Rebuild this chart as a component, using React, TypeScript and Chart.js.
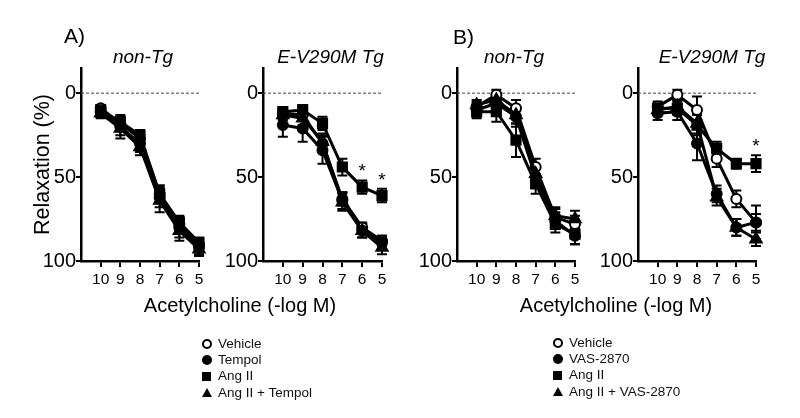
import React, { useEffect, useRef } from "react";
import { Chart, registerables } from "chart.js";

Chart.register(...registerables);

const FONT = "'Liberation Sans', Arial, Helvetica, sans-serif";

// ---------- shared axis data ----------
const doses = [10, 9, 8, 7, 6, 5];
const xTickValues = [10, 9, 8, 7, 6, 5];
const yTickValues = [0, 50, 100];
const zeroLineX = [11, 5];

const legendA = ["Vehicle", "Tempol", "Ang II", "Ang II + Tempol"];
const legendB = ["Vehicle", "VAS-2870", "Ang II", "Ang II + VAS-2870"];

// ---------- Panel A, non-Tg ----------
const aNonVehicle = [9, 18, 27, 60, 78, 90];
const aNonVehicleErr = [2, 4, 4, 5, 4, 3];
const aNonTempol = [11, 20, 30, 62, 80, 92];
const aNonTempolErr = [3, 5, 5, 6, 6, 4];
const aNonAng = [10, 17, 25, 60, 77, 89];
const aNonAngErr = [2, 4, 3, 5, 4, 3];
const aNonAngTempol = [12, 21, 32, 64, 82, 93];
const aNonAngTempolErr = [3, 6, 5, 7, 6, 4];

// ---------- Panel A, E-V290M Tg ----------
const aTgVehicle = [12, 13, 30, 63, 80, 88];
const aTgVehicleErr = [2, 3, 5, 4, 3, 3];
const aTgTempol = [19, 21, 34, 64, 82, 89];
const aTgTempolErr = [7, 8, 8, 5, 4, 4];
const aTgAng = [11, 10, 18, 44, 56, 61];
const aTgAngErr = [2, 3, 4, 5, 4, 4];
const aTgAngTempol = [13, 15, 29, 65, 82, 92];
const aTgAngTempolErr = [3, 4, 5, 5, 4, 4];
const aTgStars = [4, 5];

// ---------- Panel B, non-Tg ----------
const bNonVehicle = [8, 1, 9, 44, 74, 78];
const bNonVehicleErr = [3, 3, 5, 5, 5, 5];
const bNonVas = [10, 6, 14, 50, 76, 85];
const bNonVasErr = [4, 5, 6, 6, 5, 5];
const bNonAng = [11, 11, 28, 54, 78, 84];
const bNonAngErr = [4, 6, 10, 6, 5, 6];
const bNonAngVas = [7, 4, 13, 48, 73, 75];
const bNonAngVasErr = [3, 4, 5, 5, 5, 5];

// ---------- Panel B, E-V290M Tg ----------
const bTgVehicle = [8, 1, 10, 39, 63, 77];
const bTgVehicleErr = [3, 3, 8, 5, 5, 5];
const bTgVas = [12, 11, 30, 60, 80, 77];
const bTgVasErr = [4, 5, 10, 5, 5, 10];
const bTgAng = [9, 9, 19, 33, 42, 42];
const bTgAngErr = [3, 4, 6, 4, 3, 5];
const bTgAngVas = [10, 8, 18, 62, 80, 87];
const bTgAngVasErr = [3, 4, 6, 5, 5, 4];
const bTgStars = [5];

type Series = { values: number[]; errors: number[] };
type PanelCfg = {
  left: number;
  right: number;
  yWidth: number;
  title: string;
  titleDx: number;
  yTitle: string | null;
  vehicle: Series;
  drug: Series;
  ang: Series;
  angDrug: Series;
  stars: number[];
};

const TOP = 68;
const BOTTOM = 261;
const XH = 40;

const panels: PanelCfg[] = [
  {
    left: 81, right: 199, yWidth: 51, title: "non-Tg", titleDx: 3, yTitle: "Relaxation (%)",
    vehicle: { values: aNonVehicle, errors: aNonVehicleErr },
    drug: { values: aNonTempol, errors: aNonTempolErr },
    ang: { values: aNonAng, errors: aNonAngErr },
    angDrug: { values: aNonAngTempol, errors: aNonAngTempolErr },
    stars: [],
  },
  {
    left: 263, right: 382, yWidth: 44, title: "E-V290M Tg", titleDx: 8, yTitle: null,
    vehicle: { values: aTgVehicle, errors: aTgVehicleErr },
    drug: { values: aTgTempol, errors: aTgTempolErr },
    ang: { values: aTgAng, errors: aTgAngErr },
    angDrug: { values: aTgAngTempol, errors: aTgAngTempolErr },
    stars: aTgStars,
  },
  {
    left: 457, right: 575, yWidth: 44, title: "non-Tg", titleDx: -2, yTitle: null,
    vehicle: { values: bNonVehicle, errors: bNonVehicleErr },
    drug: { values: bNonVas, errors: bNonVasErr },
    ang: { values: bNonAng, errors: bNonAngErr },
    angDrug: { values: bNonAngVas, errors: bNonAngVasErr },
    stars: [],
  },
  {
    left: 638, right: 756, yWidth: 44, title: "E-V290M Tg", titleDx: 15, yTitle: null,
    vehicle: { values: bTgVehicle, errors: bTgVehicleErr },
    drug: { values: bTgVas, errors: bTgVasErr },
    ang: { values: bTgAng, errors: bTgAngErr },
    angDrug: { values: bTgAngVas, errors: bTgAngVasErr },
    stars: bTgStars,
  },
];

const decorPlugin = {
  id: "panelDecor",
  beforeDatasetsDraw(chart: any) {
    const ctx = chart.ctx;
    const xs = chart.scales.x;
    const ys = chart.scales.y;
    chart.data.datasets.forEach((ds: any) => {
      if (!ds.errors) return;
      ctx.save();
      ctx.strokeStyle = "#000";
      ctx.lineWidth = 2;
      ds.data.forEach((p: any, i: number) => {
        const e = ds.errors[i];
        if (!e) return;
        const px = xs.getPixelForValue(p.x);
        const y1 = ys.getPixelForValue(p.y - e);
        const y2 = ys.getPixelForValue(p.y + e);
        ctx.beginPath();
        ctx.moveTo(px, y1);
        ctx.lineTo(px, y2);
        ctx.moveTo(px - 5, y1);
        ctx.lineTo(px + 5, y1);
        ctx.moveTo(px - 5, y2);
        ctx.lineTo(px + 5, y2);
        ctx.stroke();
      });
      ctx.restore();
    });
  },
  afterDraw(chart: any, _args: any, opts: any) {
    const ctx = chart.ctx;
    const area = chart.chartArea;
    const xs = chart.scales.x;
    const ys = chart.scales.y;
    ctx.save();
    ctx.fillStyle = "#000";
    ctx.font = `italic 19px ${FONT}`;
    ctx.textAlign = "center";
    ctx.textBaseline = "alphabetic";
    ctx.fillText(opts.title, (area.left + area.right) / 2 + opts.titleDx, area.top - 5);
    const starDs = chart.data.datasets.find((d: any) => d.starIdx);
    if (starDs) {
      ctx.font = `19px ${FONT}`;
      starDs.starIdx.forEach((i: number) => {
        const p = starDs.data[i];
        const e = starDs.errors[i];
        const px = xs.getPixelForValue(p.x);
        const py = ys.getPixelForValue(p.y - e) - 13;
        ctx.fillText("*", px, py + 10);
      });
    }
    ctx.restore();
  },
};

function PanelChart({ cfg }: { cfg: PanelCfg }) {
  const ref = useRef<HTMLCanvasElement | null>(null);
  useEffect(() => {
    if (!ref.current) return;
    const mk = (s: Series, style: string, fill: string, radius: number, extra: any = {}) => ({
      data: doses.map((d, i) => ({ x: d, y: s.values[i] })),
      errors: s.errors,
      borderColor: "#000",
      borderWidth: 3,
      pointStyle: style,
      pointRadius: radius,
      pointBackgroundColor: fill,
      pointBorderColor: "#000",
      pointBorderWidth: 2,
      tension: 0,
      clip: false,
      ...extra,
    });
    const chart = new Chart(ref.current, {
      type: "line",
      data: {
        datasets: [
          mk(cfg.angDrug, "triangle", "#000", 6.5),
          mk(cfg.ang, "rect", "#000", 6.5, { starIdx: cfg.stars.length ? cfg.stars : null }),
          mk(cfg.drug, "circle", "#000", 5),
          mk(cfg.vehicle, "circle", "#fff", 5),
          {
            data: zeroLineX.map((x) => ({ x, y: 0 })),
            borderColor: "#444",
            borderWidth: 1,
            borderDash: [3, 2],
            pointRadius: 0,
            tension: 0,
          },
        ] as any,
      },
      options: {
        animation: false,
        responsive: false,
        events: [],
        layout: {
          padding: {
            left: cfg.left - cfg.yWidth,
            right: 800 - cfg.right,
            top: TOP,
            bottom: 418 - BOTTOM - XH,
          },
        },
        plugins: {
          legend: { display: false },
          tooltip: { enabled: false },
          title: { display: false },
          panelDecor: { title: cfg.title, titleDx: cfg.titleDx },
        } as any,
        scales: {
          x: {
            type: "linear",
            min: 5,
            max: 11,
            reverse: true,
            afterBuildTicks: (s: any) => {
              s.ticks = xTickValues.map((v) => ({ value: v }));
            },
            afterFit: (s: any) => {
              s.height = XH;
            },
            grid: {
              display: true,
              drawOnChartArea: false,
              drawTicks: true,
              tickLength: 6,
              color: "#000",
              lineWidth: 2,
            },
            border: { display: true, color: "#000", width: 2.5 },
            ticks: {
              autoSkip: false,
              maxRotation: 0,
              padding: 3,
              color: "#000",
              font: { family: FONT, size: 15.5 },
            },
          },
          y: {
            type: "linear",
            min: -15,
            max: 100,
            reverse: true,
            afterBuildTicks: (s: any) => {
              s.ticks = yTickValues.map((v) => ({ value: v }));
            },
            afterFit: (s: any) => {
              s.width = cfg.yWidth;
            },
            grid: {
              display: true,
              drawOnChartArea: false,
              drawTicks: true,
              tickLength: 5,
              color: "#000",
              lineWidth: 2,
            },
            border: { display: true, color: "#000", width: 2.5 },
            ticks: {
              autoSkip: false,
              padding: 0,
              color: "#000",
              font: { family: FONT, size: 20 },
            },
            title: {
              display: !!cfg.yTitle,
              text: cfg.yTitle || "",
              color: "#000",
              padding: 0,
              font: { family: FONT, size: 21.5 },
            },
          },
        },
      } as any,
      plugins: [decorPlugin],
    });
    return () => chart.destroy();
  }, [cfg]);
  return (
    <canvas
      ref={ref}
      width={800}
      height={418}
      style={{ position: "absolute", left: 0, top: 0, width: 800, height: 418 }}
    />
  );
}

function Marker({ kind }: { kind: number }) {
  if (kind === 0)
    return <span style={{ display: "inline-block", width: 10, height: 10, boxSizing: "border-box", border: "2px solid #000", borderRadius: "50%" }} />;
  if (kind === 1)
    return <span style={{ display: "inline-block", width: 10, height: 10, background: "#000", borderRadius: "50%" }} />;
  if (kind === 2) return <span style={{ display: "inline-block", width: 9, height: 9, background: "#000" }} />;
  return (
    <span
      style={{
        display: "inline-block",
        width: 0,
        height: 0,
        borderLeft: "5.5px solid transparent",
        borderRight: "5.5px solid transparent",
        borderBottom: "9px solid #000",
      }}
    />
  );
}

function Legend({ labels, left, top }: { labels: string[]; left: number; top: number }) {
  return (
    <div style={{ position: "absolute", left, top, fontFamily: FONT, fontSize: 13.5, color: "#111" }}>
      {labels.map((l, i) => (
        <div key={l} style={{ display: "flex", alignItems: "center", height: 16.2, lineHeight: "16.2px" }}>
          <span style={{ width: 11, display: "flex", justifyContent: "center" }}>
            <Marker kind={i} />
          </span>
          <span style={{ marginLeft: 6 }}>{l}</span>
        </div>
      ))}
    </div>
  );
}

const textStyle: React.CSSProperties = { position: "absolute", fontFamily: FONT, color: "#000", lineHeight: 1, whiteSpace: "nowrap" };

export default function App() {
  return (
    <div style={{ position: "fixed", left: 0, top: 0, width: 800, height: 418, background: "#fff", overflow: "hidden" }}>
      {panels.map((p, i) => (
        <PanelChart key={i} cfg={p} />
      ))}
      <div style={{ ...textStyle, left: 64, top: 25, fontSize: 21 }}>A)</div>
      <div style={{ ...textStyle, left: 453, top: 26, fontSize: 21 }}>B)</div>
      <div style={{ ...textStyle, left: 40, width: 400, top: 295, fontSize: 20, textAlign: "center" }}>Acetylcholine (-log M)</div>
      <div style={{ ...textStyle, left: 416, width: 400, top: 295, fontSize: 20, textAlign: "center" }}>Acetylcholine (-log M)</div>
      <Legend labels={legendA} left={201} top={336} />
      <Legend labels={legendB} left={552} top={335} />
    </div>
  );
}
